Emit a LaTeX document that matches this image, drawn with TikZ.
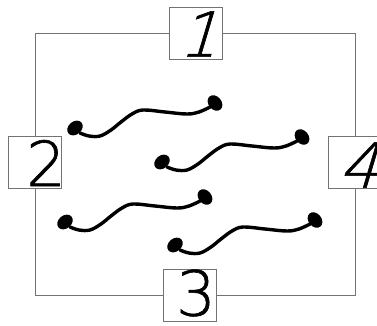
\documentclass[tikz,border=0pt]{standalone}
\usepackage{fontspec}
\newfontfamily\digitup{DejaVu Sans ExtraLight}[FakeBold=1]
\newfontfamily\digitsl{DejaVu Sans ExtraLight}[FakeSlant=0.3,FakeBold=1]
\begin{document}
\begin{tikzpicture}[x=1pt,y=-1pt,
  box/.style={draw=black!55,line width=0.8pt,fill=white,minimum width=53pt,minimum height=52pt,inner sep=0pt},
  frame/.style={draw=black!55,line width=0.8pt},
  digit/.style={inner sep=0pt},
  wormline/.style={line width=3.4pt,line cap=round},
  worm/.pic={
    \draw[wormline] plot[smooth,tension=0.6] coordinates {(5,5) (14,8) (25,8) (36,2) (46,-6) (57,-14) (68,-18) (90,-16) (112,-14) (124,-16) (135,-21)};
    \fill[rotate around={40:(0,0)}] (0,0) ellipse [x radius=8.5pt,y radius=6.5pt];
    \fill[rotate around={-50:(140,-25)}] (140,-25) ellipse [x radius=8.5pt,y radius=6.5pt];
  }]
\useasboundingbox (0,0) rectangle (377,325);
\node[box] (b1) at (196,33.5) {};
\node[box] (b2) at (35,162.5) {};
\node[box] (b3) at (190,295) {};
\node[box] (b4) at (355,162.5) {};
\draw[frame] (b1.west) -| (b2.north);
\draw[frame] (b2.south) |- (b3.west);
\draw[frame] (b3.east) -| (b4.south);
\draw[frame] (b4.north) |- (b1.east);
\node[digit,font=\digitsl\fontsize{62}{62}\selectfont] (d1) at (198,34) {1};
\node[digit,font=\digitup\fontsize{62}{62}\selectfont] (d2) at (46,163) {2};
\node[digit,font=\digitup\fontsize{62}{62}\selectfont] (d3) at (196,293) {3};
\node[digit,font=\digitsl\fontsize{62}{62}\selectfont] (d4) at (358,165) {4};
\pic at (75,128) {worm};
\pic at (162,162) {worm};
\pic at (65,222) {worm};
\pic at (175,245) {worm};
\end{tikzpicture}
\end{document}
